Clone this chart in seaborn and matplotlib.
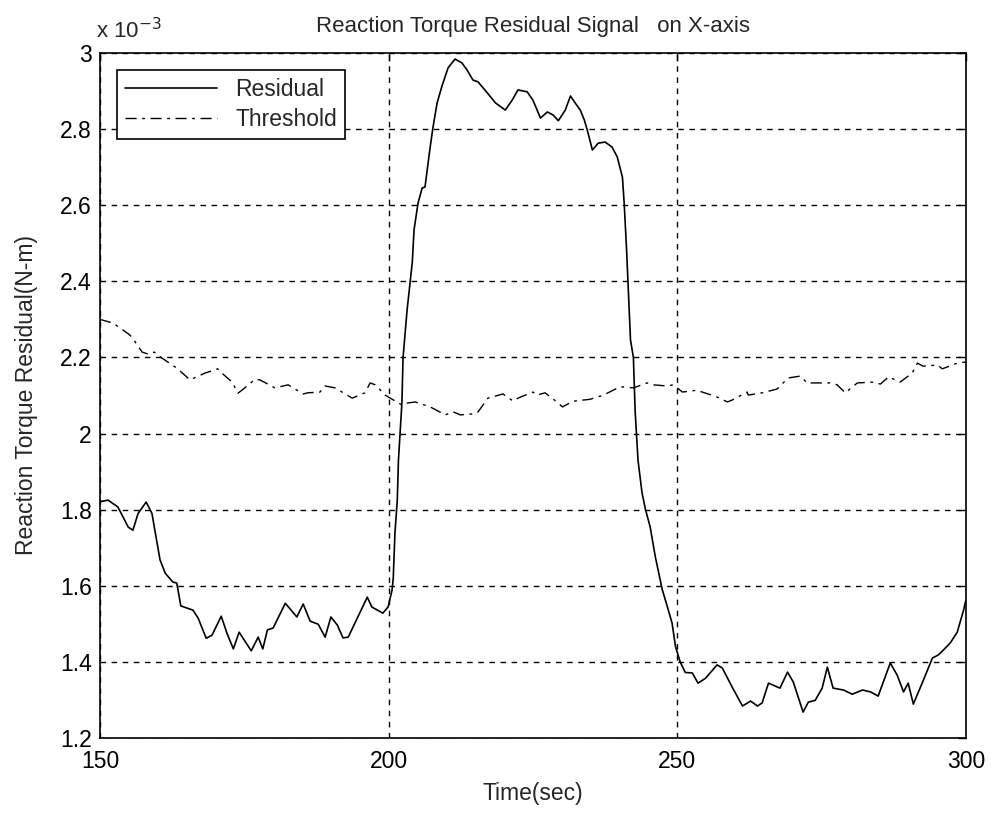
import numpy as np
import pandas as pd
import matplotlib
matplotlib.use("Agg")
import matplotlib.pyplot as plt
import seaborn as sns

# Residual signal (values in units of 1e-3 N-m)
res_t = [150.0, 151.4, 153.1, 154.9, 155.7, 156.6, 158.0, 159.0, 159.5, 160.4,
         161.3, 162.6, 163.3, 164.0, 166.1, 167.0, 168.4, 169.4, 171.0, 172.0,
         173.1, 174.1, 176.2, 177.4, 178.2, 179.0, 180.0, 182.1, 184.1, 185.2,
         186.4, 187.8, 189.0, 190.0, 191.1, 192.1, 193.0, 196.3, 197.1, 199.0,
         199.9, 200.6, 200.8, 201.1, 201.5, 201.7, 202.3, 202.5, 203.2, 204.1,
         204.4, 205.1, 205.8, 206.3, 207.2, 207.7, 208.4, 209.3, 210.3, 211.5,
         212.7, 213.6, 214.6, 215.5, 217.1, 218.5, 220.2, 221.4, 222.4, 224.0,
         225.0, 226.3, 227.5, 228.5, 229.4, 230.6, 231.5, 232.3, 233.2, 233.9,
         234.4, 235.3, 236.3, 237.5, 238.7, 239.6, 240.5, 240.8, 241.2, 241.9,
         242.4, 242.7, 243.2, 243.9, 244.5, 245.3, 246.2, 247.4, 248.3, 249.1,
         249.7, 250.5, 251.4, 252.6, 253.6, 254.9, 256.9, 257.8, 259.5, 261.3,
         262.7, 263.9, 264.7, 265.8, 267.8, 269.1, 270.1, 271.8, 272.7, 273.9,
         275.1, 276.0, 277.0, 278.8, 280.3, 282.1, 283.5, 284.8, 286.9, 288.1,
         289.2, 290.0, 290.9, 292.5, 294.2, 295.2, 296.1, 297.3, 298.5, 299.6,
         300.0]
res_v = [1.821, 1.825, 1.807, 1.754, 1.746, 1.790, 1.820, 1.790, 1.746, 1.668,
         1.633, 1.610, 1.607, 1.547, 1.536, 1.515, 1.462, 1.470, 1.520, 1.475,
         1.434, 1.478, 1.429, 1.465, 1.434, 1.484, 1.489, 1.554, 1.518, 1.552,
         1.507, 1.499, 1.465, 1.518, 1.497, 1.463, 1.465, 1.570, 1.544, 1.528,
         1.544, 1.589, 1.620, 1.740, 1.825, 1.930, 2.080, 2.200, 2.325, 2.450,
         2.535, 2.606, 2.645, 2.648, 2.753, 2.806, 2.869, 2.916, 2.961, 2.984,
         2.974, 2.955, 2.929, 2.924, 2.895, 2.869, 2.850, 2.876, 2.903, 2.898,
         2.876, 2.829, 2.845, 2.837, 2.822, 2.850, 2.887, 2.869, 2.850, 2.824,
         2.798, 2.745, 2.763, 2.766, 2.753, 2.727, 2.674, 2.606, 2.490, 2.246,
         2.200, 2.060, 1.930, 1.844, 1.800, 1.755, 1.676, 1.590, 1.544, 1.502,
         1.440, 1.400, 1.372, 1.371, 1.344, 1.357, 1.392, 1.384, 1.334, 1.284,
         1.297, 1.284, 1.292, 1.344, 1.331, 1.373, 1.347, 1.268, 1.294, 1.299,
         1.331, 1.386, 1.331, 1.326, 1.315, 1.326, 1.321, 1.310, 1.397, 1.365,
         1.321, 1.344, 1.289, 1.347, 1.410, 1.418, 1.431, 1.450, 1.478, 1.536,
         1.562]

# Threshold signal
thr_t = [150.0, 152.3, 154.9, 155.5, 157.3, 158.3, 159.4, 159.9, 162.5, 163.3,
         165.6, 168.2, 170.4, 171.1, 172.9, 173.9, 174.6, 176.9, 177.7, 180.3,
         182.6, 185.2, 186.0, 188.1, 189.0, 190.7, 192.8, 193.7, 195.9, 196.8,
         197.7, 199.4, 202.3, 203.2, 204.6, 207.2, 209.8, 211.2, 212.4, 215.0,
         215.5, 217.2, 219.8, 221.6, 222.4, 225.0, 225.7, 227.1, 229.4, 230.1,
         232.0, 234.9, 237.2, 238.0, 240.1, 242.4, 244.8, 245.8, 248.3, 249.3,
         250.9, 253.5, 254.3, 256.6, 258.7, 259.5, 262.1, 262.3, 264.7, 267.3,
         269.2, 271.3, 272.5, 273.9, 276.5, 277.7, 279.1, 281.2, 283.8, 285.2,
         286.6, 288.6, 290.7, 291.6, 292.6, 295.1, 295.9, 298.5, 300.0]
thr_v = [2.300, 2.290, 2.262, 2.254, 2.214, 2.209, 2.214, 2.207, 2.180, 2.172,
         2.141, 2.159, 2.170, 2.159, 2.135, 2.106, 2.114, 2.143, 2.141, 2.120,
         2.128, 2.104, 2.107, 2.109, 2.125, 2.120, 2.101, 2.093, 2.107, 2.133,
         2.128, 2.101, 2.075, 2.080, 2.083, 2.070, 2.049, 2.057, 2.049, 2.052,
         2.057, 2.093, 2.104, 2.085, 2.093, 2.109, 2.101, 2.107, 2.080, 2.070,
         2.085, 2.090, 2.101, 2.107, 2.123, 2.120, 2.133, 2.128, 2.125, 2.128,
         2.109, 2.114, 2.109, 2.098, 2.083, 2.088, 2.109, 2.101, 2.107, 2.117,
         2.146, 2.151, 2.133, 2.133, 2.133, 2.128, 2.107, 2.133, 2.135, 2.130,
         2.149, 2.135, 2.159, 2.185, 2.177, 2.180, 2.170, 2.185, 2.188]

x_ticks = [150, 200, 250, 300]
y_ticks = [1.2, 1.4, 1.6, 1.8, 2.0, 2.2, 2.4, 2.6, 2.8, 3.0]

sns.set_style("white")
plt.rcParams['font.family'] = ['Liberation Sans', 'DejaVu Sans']

res = pd.DataFrame({"t": res_t, "v": res_v})
thr = pd.DataFrame({"t": thr_t, "v": thr_v})

fig = plt.figure(figsize=(9.93, 8.14), dpi=100)
ax = fig.add_axes([0.1007, 0.0934, 0.872, 0.8415])

sns.lineplot(data=res, x="t", y="v", ax=ax, color="black", lw=1.2,
             label="Residual", estimator=None, sort=False)
sns.lineplot(data=thr, x="t", y="v", ax=ax, color="black", lw=1.0,
             linestyle=(0, (8, 4, 2, 4)), label="Threshold",
             estimator=None, sort=False)

ax.set_xlim(150, 300)
ax.set_ylim(1.2, 3.0)
ax.set_xticks(x_ticks)
ax.set_yticks(y_ticks)
ax.set_yticklabels([f"{v:g}" for v in y_ticks])
ax.grid(True, color="black", linestyle=(0, (4, 4)), lw=1.0)
ax.tick_params(direction="in", length=6, top=True, right=True,
               labelsize=16.5, colors="black", width=1.0)
ax.tick_params(axis="x", pad=9)
ax.tick_params(axis="y", pad=6)
for s in ax.spines.values():
    s.set_color("black")
    s.set_linewidth(1.2)

ax.set_xlabel("Time(sec)", fontsize=16.5, labelpad=6)
ax.set_ylabel("Reaction Torque Residual(N-m)", fontsize=16.5, labelpad=16)
ax.set_title("Reaction Torque Residual Signal   on X-axis", fontsize=16, pad=15)
ax.text(-0.005, 1.014, r"x 10$^{-3}$", transform=ax.transAxes, fontsize=16,
        ha="left", va="bottom")

leg = ax.legend(loc="upper left", fontsize=16.5, frameon=True, fancybox=False,
                edgecolor="black", framealpha=1, handlelength=4.0,
                borderaxespad=0.75, labelspacing=0.3, borderpad=0.35)
leg.get_frame().set_linewidth(1.2)

fig.savefig("out.png", dpi=100)
